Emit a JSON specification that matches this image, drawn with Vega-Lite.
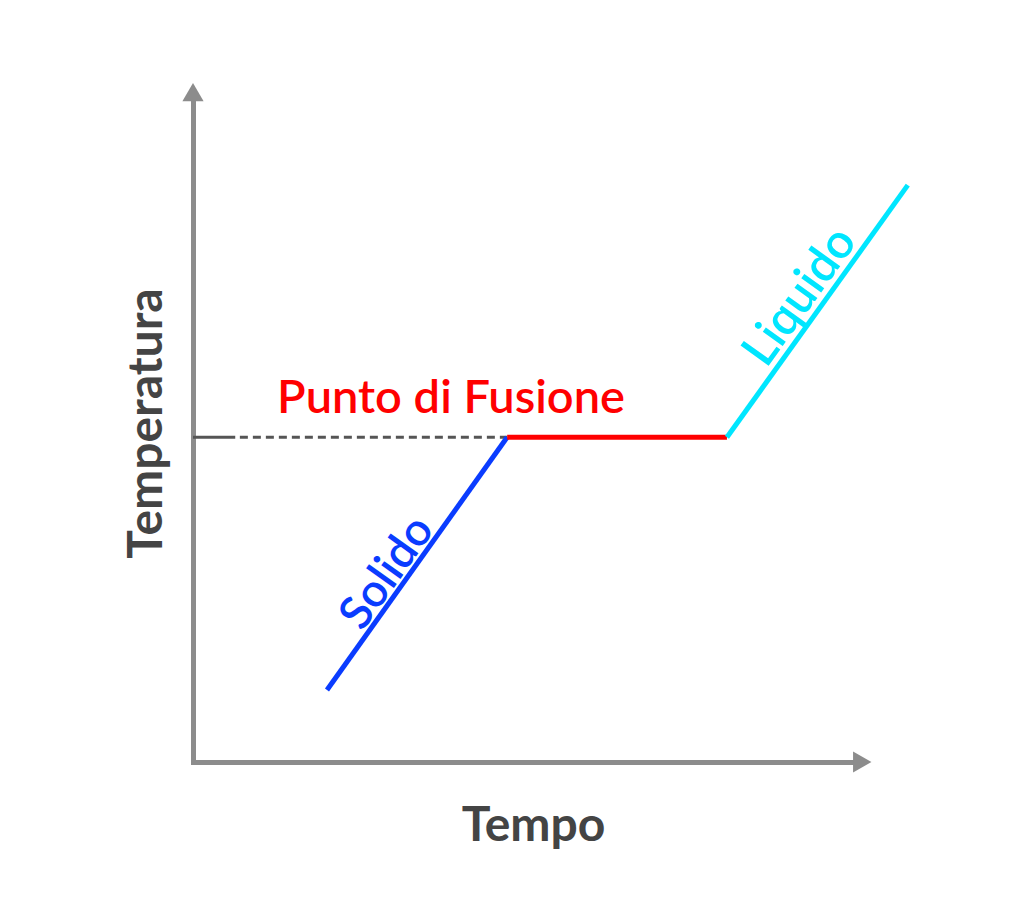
{
  "$schema": "https://vega.github.io/schema/vega-lite/v6.json",
  "description": "Curva di riscaldamento: solido, punto di fusione, liquido",
  "width": 660,
  "height": 660,
  "autosize": {"type": "none"},
  "padding": {"left": 193, "top": 102, "right": 171, "bottom": 157},
  "background": "#ffffff",
  "datasets": {
    "fasi": [
      {"fase": "Solido", "tempo": 20.3, "temp": 10.9},
      {"fase": "Solido", "tempo": 47.6, "temp": 49.2},
      {"fase": "Fusione", "tempo": 47.6, "temp": 49.2},
      {"fase": "Fusione", "tempo": 80.9, "temp": 49.2},
      {"fase": "Liquido", "tempo": 80.9, "temp": 49.2},
      {"fase": "Liquido", "tempo": 108.3, "temp": 87.4}
    ],
    "guida": [
      {"tratto": "pieno", "tempo": 0, "temp": 49.2},
      {"tratto": "pieno", "tempo": 6.4, "temp": 49.2},
      {"tratto": "tratteggio", "tempo": 7.1, "temp": 49.2},
      {"tratto": "tratteggio", "tempo": 47.6, "temp": 49.2}
    ],
    "frecce": [
      {"dir": "su", "tempo": 0, "temp": 101.5},
      {"dir": "destra", "tempo": 101.4, "temp": 0}
    ],
    "etichette": [
      {"nome": "Punto di Fusione", "tempo": 39.1, "temp": 52.9},
      {"nome": "Solido", "tempo": 31.8, "temp": 27.0},
      {"nome": "Liquido", "tempo": 94.8, "temp": 68.5}
    ]
  },
  "encoding": {
    "x": {
      "field": "tempo",
      "type": "quantitative",
      "scale": {"domain": [0, 100], "nice": false, "zero": false},
      "axis": {
        "title": "Tempo",
        "titleX": 340,
        "titleY": 78,
        "titleAlign": "center",
        "titleBaseline": "alphabetic"
      }
    },
    "y": {
      "field": "temp",
      "type": "quantitative",
      "scale": {"domain": [0, 100], "nice": false, "zero": false},
      "axis": {
        "title": "Temperatura",
        "titleX": -32,
        "titleY": 321,
        "titleAngle": -90,
        "titleAlign": "center",
        "titleBaseline": "alphabetic"
      }
    }
  },
  "layer": [
    {
      "data": {"name": "guida"},
      "mark": {"type": "line", "color": "#555555", "strokeWidth": 3},
      "encoding": {
        "detail": {"field": "tratto"},
        "strokeDash": {
          "field": "tratto",
          "type": "nominal",
          "scale": {"domain": ["pieno", "tratteggio"], "range": [[1, 0], [8, 5]]},
          "legend": null
        }
      }
    },
    {
      "data": {"name": "fasi"},
      "mark": {"type": "line", "strokeWidth": 5, "strokeCap": "butt"},
      "encoding": {
        "color": {
          "field": "fase",
          "type": "nominal",
          "scale": {"domain": ["Solido", "Fusione", "Liquido"], "range": ["#0a3cff", "#ff0000", "#00e6ff"]},
          "legend": null
        }
      }
    },
    {
      "data": {"name": "frecce"},
      "transform": [{"filter": "datum.dir == 'su'"}],
      "mark": {"type": "point", "shape": "triangle-up", "filled": true, "size": 450, "color": "#8c8c8c", "opacity": 1}
    },
    {
      "data": {"name": "frecce"},
      "transform": [{"filter": "datum.dir == 'destra'"}],
      "mark": {"type": "point", "shape": "triangle-right", "filled": true, "size": 450, "color": "#8c8c8c", "opacity": 1}
    },
    {
      "data": {"name": "etichette"},
      "transform": [{"filter": "datum.nome == 'Punto di Fusione'"}],
      "mark": {"type": "text", "font": "Lato", "fontSize": 47, "fontWeight": 600, "color": "#ff0000", "align": "center", "baseline": "alphabetic"},
      "encoding": {"text": {"field": "nome"}}
    },
    {
      "data": {"name": "etichette"},
      "transform": [{"filter": "datum.nome == 'Solido'"}],
      "mark": {"type": "text", "font": "Lato", "fontSize": 46, "fontWeight": 600, "color": "#0a3cff", "align": "center", "baseline": "alphabetic", "angle": -54.6, "dy": -5},
      "encoding": {"text": {"field": "nome"}}
    },
    {
      "data": {"name": "etichette"},
      "transform": [{"filter": "datum.nome == 'Liquido'"}],
      "mark": {"type": "text", "font": "Lato", "fontSize": 48, "fontWeight": 600, "color": "#00e6ff", "align": "center", "baseline": "alphabetic", "angle": -54.3, "dy": -8},
      "encoding": {"text": {"field": "nome"}}
    }
  ],
  "config": {
    "view": {"stroke": null},
    "axis": {
      "grid": false,
      "ticks": false,
      "labels": false,
      "domainColor": "#8c8c8c",
      "domainWidth": 5,
      "domainCap": "square",
      "titleFont": "Lato",
      "titleFontSize": 48,
      "titleFontWeight": "bold",
      "titleColor": "#444444"
    }
  }
}
